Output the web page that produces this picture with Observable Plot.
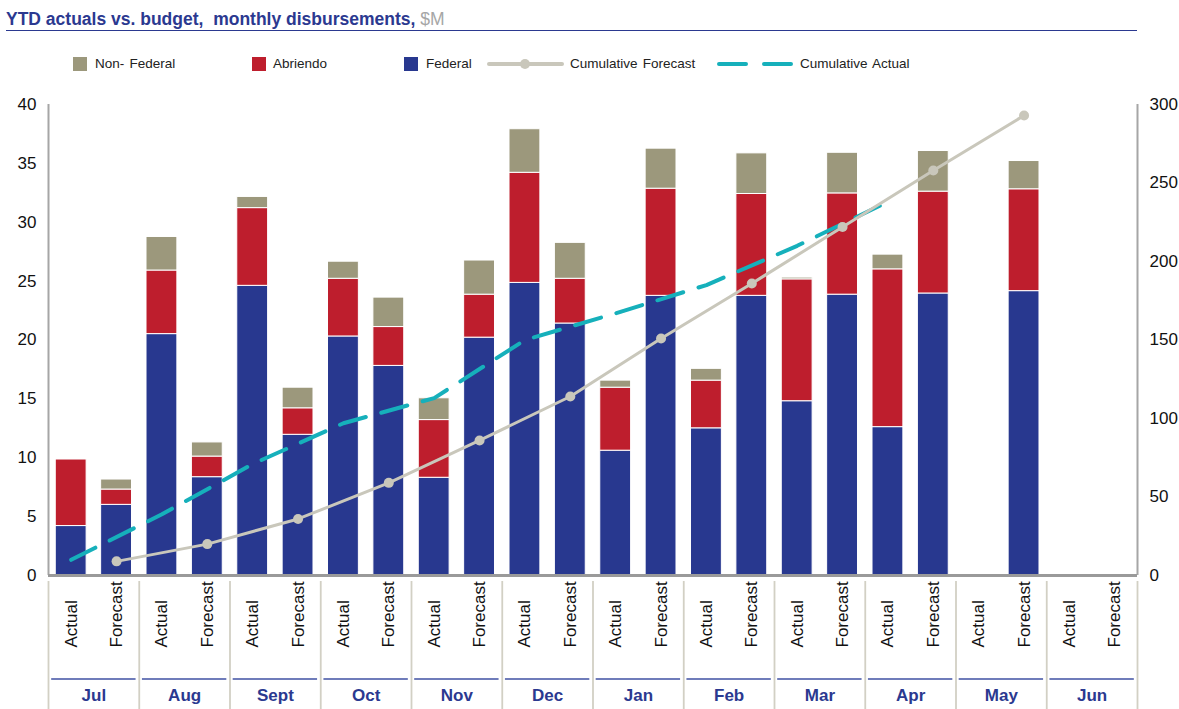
<!DOCTYPE html>
<html><head><meta charset="utf-8">
<script src="https://cdn.jsdelivr.net/npm/d3@7"></script>
<script src="https://cdn.jsdelivr.net/npm/@observablehq/plot@0.6"></script>
<style>
body{margin:0;background:#fff;font-family:"Liberation Sans",Arial,sans-serif;}
#wrap{position:relative;width:1179px;height:709px;overflow:hidden;background:#fff;}
#title{position:absolute;left:6px;top:9px;font-size:17.5px;line-height:20px;font-weight:bold;color:#2b3990;white-space:nowrap;}
#title span{font-weight:normal;color:#a6a6a6;}
#rule{position:absolute;left:6px;top:29.5px;width:1131px;height:0;border-top:1.5px solid #2b3990;}
.lg{position:absolute;top:56px;font-size:13.5px;color:#222;white-space:nowrap;line-height:16px;word-spacing:1.5px;}
.sw{position:absolute;top:57px;width:14px;height:14px;}
.ls{position:absolute;top:54px;}
#chart{position:absolute;left:0;top:80px;}
</style></head><body>
<div id="wrap">
  <div id="title">YTD actuals vs. budget,&nbsp; monthly disbursements, <span>$M</span></div>
  <div id="rule"></div>
  <div id="legend"></div>
  <div id="chart"></div>
</div>
<script>
// ---- data ----
const months = ["Jul","Aug","Sept","Oct","Nov","Dec","Jan","Feb","Mar","Apr","May","Jun"];
const types = ["Actual","Forecast"];
const series = ["Federal","Abriendo","Non- Federal"];
const seriesColors = ["#28388f","#be1e2d","#9c987c"];

const federalActual    = [4.2, 20.5, 24.6, 20.3, 8.3, 24.85, 10.6, 12.5, 14.8, 12.6, 0, 0];
const abriendoActual   = [5.65, 5.4, 6.6, 4.9, 4.9, 9.35, 5.35, 4.05, 10.35, 13.4, 0, 0];
const nonFederalActual = [0, 2.85, 0.95, 1.45, 1.85, 3.7, 0.6, 1.0, 0.15, 1.25, 0, 0];

const federalForecast    = [6.0, 8.35, 11.95, 17.8, 20.2, 21.4, 23.75, 23.75, 23.85, 23.95, 24.15, 0];
const abriendoForecast   = [1.3, 1.75, 2.25, 3.3, 3.65, 3.8, 9.1, 8.65, 8.6, 8.65, 8.65, 0];
const nonFederalForecast = [0.85, 1.2, 1.75, 2.5, 2.9, 3.05, 3.4, 3.45, 3.45, 3.45, 2.4, 0];

// cumulative, right axis ($M)
const cumulativeForecast = [9, 20, 36, 59, 86, 114, 151, 186, 222, 258, 293]; // Jul..May
const cumulativeActual   = [10, 39, 71, 97, 113, 150, 167, 185, 210, 238];    // Jul..Apr

const leftTicks  = [0, 5, 10, 15, 20, 25, 30, 35, 40];
const rightTicks = [0, 50, 100, 150, 200, 250, 300];

// ---- layout ----
const W = 1179, H = 629, mT = 24, mB = 134, mL = 48, mR = 42;
const yMax = 40, rMax = 300;
const pxPerUnit = (H - mT - mB) / yMax;
const below = px => -px / pxPerUnit;        // pixel offset below the baseline -> y value
const toLeft = v => v * yMax / rMax;         // right-axis value -> left-axis units
const navy = "#2b3990";
const fcColor = "#c9c7bb", acColor = "#16b0bb";

// legend (HTML)
const legend = document.getElementById("legend");
legend.innerHTML = `
 <div class="sw" style="left:73px;background:${seriesColors[2]}"></div><div class="lg" style="left:95px">Non- Federal</div>
 <div class="sw" style="left:252px;background:${seriesColors[1]}"></div><div class="lg" style="left:273px">Abriendo</div>
 <div class="sw" style="left:404px;background:${seriesColors[0]}"></div><div class="lg" style="left:426px">Federal</div>
 <svg class="ls" style="left:486px" width="80" height="20"><line x1="3" x2="76" y1="10" y2="10" stroke="${fcColor}" stroke-width="4" stroke-linecap="round"/><circle cx="39" cy="10" r="5" fill="${fcColor}"/></svg>
 <div class="lg" style="left:570px">Cumulative Forecast</div>
 <svg class="ls" style="left:715px" width="80" height="20"><line x1="4" x2="76" y1="10" y2="10" stroke="${acColor}" stroke-width="4" stroke-linecap="round" stroke-dasharray="27,18"/></svg>
 <div class="lg" style="left:800px">Cumulative Actual</div>`;

// build table
const valuesFor = {
  Actual: [federalActual, abriendoActual, nonFederalActual],
  Forecast: [federalForecast, abriendoForecast, nonFederalForecast]
};
const rows = [];
const cats = [];
months.forEach((m, mi) => {
  types.forEach((t, ti) => {
    const i = mi * 2 + ti;
    cats.push({i, t});
    let base = 0;
    series.forEach((s, si) => {
      const v = valuesFor[t][si][mi];
      if (v > 0) { rows.push({m, t, s, i, y1: base, y2: base + v}); base += v; }
    });
  });
});

const chart = Plot.plot({
  width: W, height: H,
  marginTop: mT, marginBottom: mB, marginLeft: mL, marginRight: mR,
  x: {domain: [0, months.length * 2], axis: null},
  y: {domain: [0, yMax], axis: null},
  color: {domain: series, range: seriesColors},
  style: {fontFamily: '"Liberation Sans", Arial, sans-serif', fontSize: "17px", background: "transparent", color: "#111", overflow: "visible"},
  marks: [
    // month separators below axis
    Plot.ruleX(d3.range(months.length + 1).map(k => k * 2), {y1: below(6), y2: below(140), stroke: "#d2d0c4", strokeWidth: 1.8}),
    // bars
    Plot.rect(rows, {x1: d => d.i + 0.16, x2: d => d.i + 0.84, y1: "y1", y2: "y2", fill: "s", stroke: "white", strokeWidth: 1}),
    // axes lines
    Plot.ruleX([0, months.length * 2], {y1: 0, y2: yMax, stroke: "#a6a6a6", strokeWidth: 2}),
    Plot.ruleY([0], {x1: 0, x2: months.length * 2, stroke: "#9a9a9a", strokeWidth: 3}),
    // left tick labels
    Plot.text(leftTicks, {x: 0, y: d => d, text: d => String(d), textAnchor: "end", dx: -12, fill: "#111"}),
    // right tick labels
    Plot.text(rightTicks, {x: months.length * 2, y: d => toLeft(d), text: d => String(d), textAnchor: "start", dx: 12, fill: "#111"}),
    // category labels
    Plot.text(cats, {x: d => d.i + 0.5, y: 0, text: "t", rotate: -90, textAnchor: "start", dy: 72, fill: "#111"}),
    // month lines and labels
    Plot.ruleY(months, {y: () => below(103.5), x1: (d, k) => k * 2 + 0.07, x2: (d, k) => k * 2 + 1.93, stroke: "#3f51a3", strokeWidth: 1.5}),
    Plot.text(months, {x: (d, k) => k * 2 + 1, y: () => below(120), text: d => d, fill: navy, fontWeight: "bold"}),
    // cumulative actual
    Plot.line(cumulativeActual, {x: (d, k) => k * 2 + 0.5, y: d => toLeft(d), stroke: acColor, strokeWidth: 4, strokeDasharray: "27,16", strokeLinecap: "round"}),
    // cumulative forecast
    Plot.line(cumulativeForecast, {x: (d, k) => k * 2 + 1.5, y: d => toLeft(d), stroke: fcColor, strokeWidth: 3}),
    Plot.dot(cumulativeForecast, {x: (d, k) => k * 2 + 1.5, y: d => toLeft(d), r: 5, fill: fcColor, stroke: "none"})
  ]
});
document.getElementById("chart").appendChild(chart);
</script>
</body></html>
